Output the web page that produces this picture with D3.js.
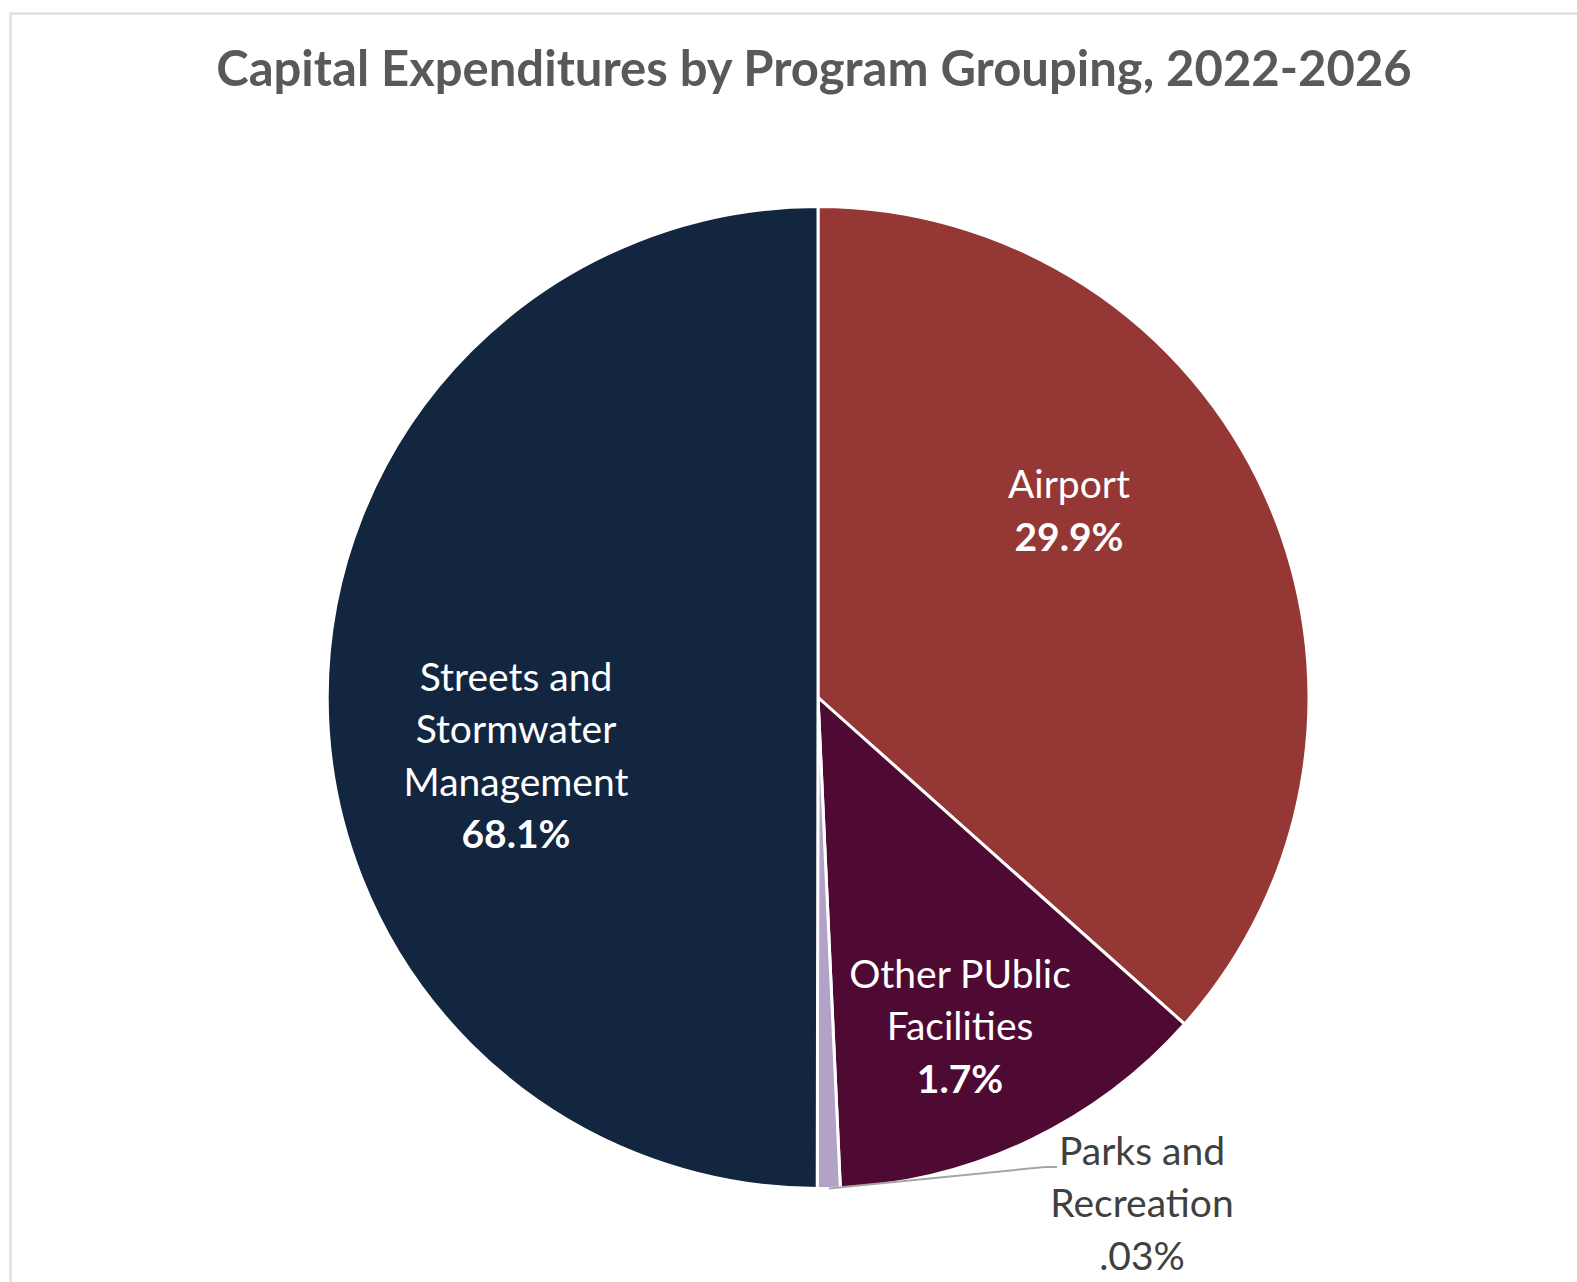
<!DOCTYPE html>
<html>
<head>
<meta charset="utf-8">
<script src="https://cdn.jsdelivr.net/npm/d3@7"></script>
<style>
  body { margin: 0; background: #fff; }
  svg text { font-family: Lato, "Open Sans", sans-serif; }
</style>
</head>
<body>
<div id="chart"></div>
<script>
// slice order clockwise from 12 o'clock
const categories = ['Airport', 'Other PUblic Facilities', 'Parks and Recreation', 'Streets and Stormwater Management'];
// share of the circle each slice takes in the picture
const sliceShares = [36.6, 12.7, 0.75, 50.0];
// percentages printed on the labels
const pctLabels = ['29.9%', '1.7%', '.03%', '68.1%'];
const nameLines = [['Airport'], ['Other PUblic', 'Facilities'], ['Parks and', 'Recreation'], ['Streets and', 'Stormwater', 'Management']];
const colors = ['#953735', '#4f0a33', '#b3a2c7', '#12263f'];

const width = 1577, height = 1282;
const cx = 818, cy = 697.5, radius = 491;

const svg = d3.select('#chart').append('svg')
    .attr('width', width)
    .attr('height', height);

// chart area border (only top and left visible)
svg.append('path')
    .attr('d', `M10.5,${height} L10.5,13.5 L${width},13.5`)
    .attr('fill', 'none')
    .attr('stroke', '#d9d9d9')
    .attr('stroke-width', 2);

svg.append('text')
    .attr('x', 814)
    .attr('y', 86)
    .attr('text-anchor', 'middle')
    .attr('font-size', 49)
    .attr('font-weight', 'bold')
    .attr('fill', '#595959')
    .text('Capital Expenditures by Program Grouping, 2022-2026');

const pie = d3.pie().sort(null).value(d => d);
const arcs = pie(sliceShares);
const arc = d3.arc().innerRadius(0).outerRadius(radius);

const g = svg.append('g').attr('transform', `translate(${cx},${cy})`);

g.selectAll('.slice')
    .data(arcs)
    .enter().append('path')
    .attr('class', 'slice')
    .attr('d', arc)
    .attr('fill', (d, i) => colors[i])
    .attr('stroke', '#fff')
    .attr('stroke-width', 3)
    .attr('stroke-linejoin', 'round');

// label anchor points (centre of first line), relative to pie centre
const labelPos = [[251, -213], [142, 276.5], [324, 453.5], [-302, -20.5]];
const inside = [true, true, false, true];
const lineGap = 52.5;

arcs.forEach((a, i) => {
    const lines = nameLines[i].concat([pctLabels[i]]);
    const t = g.append('text')
        .attr('text-anchor', 'middle')
        .attr('font-size', 39)
        .attr('fill', inside[i] ? '#ffffff' : '#404040');
    lines.forEach((ln, j) => {
        t.append('tspan')
            .attr('x', labelPos[i][0])
            .attr('y', labelPos[i][1] + j * lineGap)
            .attr('dy', '0.35em')
            .attr('font-weight', (j === lines.length - 1 && inside[i]) ? 'bold' : 'normal')
            .text(ln);
    });
});

// leader line for the thin Parks slice
const parks = arcs[2];
const edge = d3.arc().innerRadius(radius).outerRadius(radius).centroid(parks);
g.append('polyline')
    .attr('points', [[edge[0], edge[1]], [227, 469.5], [239, 469.5]].map(p => p.join(',')).join(' '))
    .attr('fill', 'none')
    .attr('stroke', '#a6a6a6')
    .attr('stroke-width', 2);
</script>
</body>
</html>
